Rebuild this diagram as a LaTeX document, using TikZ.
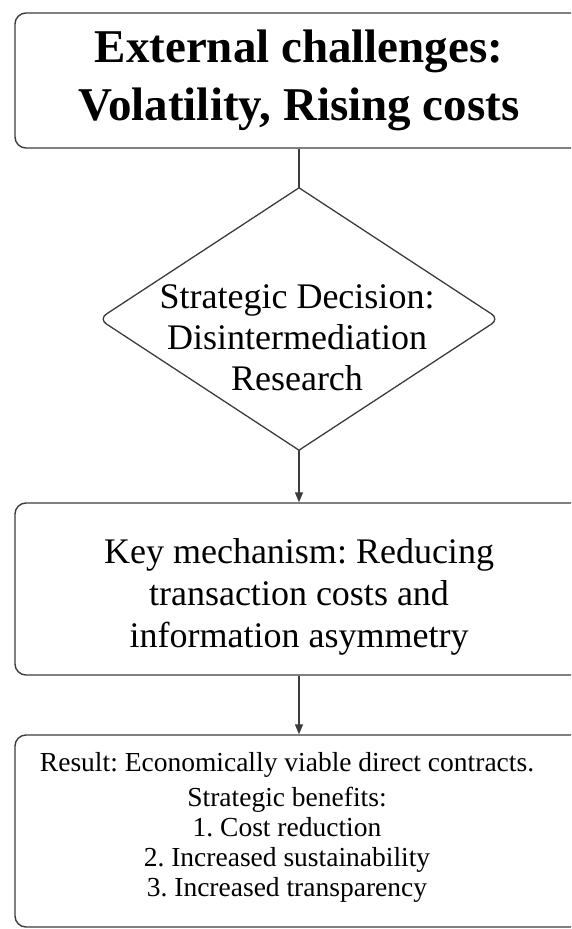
\documentclass[tikz,border=0pt]{standalone}
\usepackage{fontspec}
\setmainfont{Liberation Serif}
\usetikzlibrary{arrows.meta,shapes.geometric}
\definecolor{linegray}{HTML}{3C3C3C}
\frenchspacing
\begin{document}
\begin{tikzpicture}[x=1pt,y=1pt,
  frame/.style={draw=linegray, line width=1.4pt, rounded corners=11pt,
    minimum width=568pt, inner sep=0pt, align=center},
  conn/.style={draw=linegray, line width=1.3pt},
  arr/.style={conn, -{Triangle[width=8pt,length=10pt]}},
  toptext/.style={align=center, font=\fontsize{47}{58}\selectfont\bfseries},
  dectext/.style={align=center, inner sep=0pt, font=\fontsize{36}{41}\selectfont},
  midtext/.style={align=center, inner sep=0pt, font=\fontsize{36}{42}\selectfont},
  restext/.style={align=center, inner sep=0pt, font=\fontsize{27.5}{30}\selectfont}]
\useasboundingbox (0,0) rectangle (571,-929);
\clip (0,0) rectangle (571,-929);
% boxes
\node[frame, minimum height=135pt, toptext] (top) at (299,-80.5)
  {External challenges:\\Volatility, Rising costs};
\node[diamond, minimum width=400pt, minimum height=262pt, inner sep=0pt] (dec) at (299,-319) {};
\draw[conn] (dec.north) [rounded corners=9pt] -- (dec.east) [sharp corners] -- (dec.south)
  [rounded corners=9pt] -- (dec.west) [sharp corners] -- cycle;
\node[dectext] (dectxt) at ([yshift=-19pt,xshift=-2pt]dec.center)
  {Strategic Decision:\\Disintermediation\\Research};
\node[frame, minimum height=172pt] (mid) at (299,-589) {};
\node[midtext] (midtxt) at ([yshift=-8pt]mid.center)
  {Key mechanism: Reducing\\transaction costs and\\information asymmetry};
\node[frame, minimum height=192pt] (res) at (299,-831) {};
\node[restext] (restxt) at ([yshift=4pt,xshift=-12pt]res.center)
  {Result: Economically viable direct contracts.\\[5pt]
   Strategic benefits:\\1. Cost reduction\\2. Increased sustainability\\3. Increased transparency};
% connectors
\draw[conn] (top.south) -- (dec.north);
\draw[arr] (dec.south) -- (mid.north);
\draw[arr] (mid.south) -- (res.north);
\end{tikzpicture}
\end{document}
